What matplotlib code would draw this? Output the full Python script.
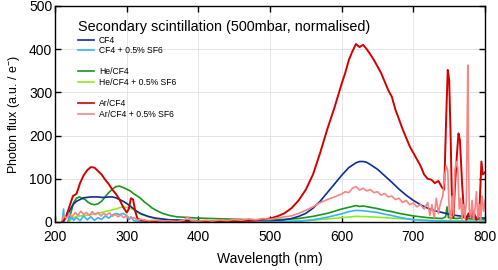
import numpy as np
import matplotlib
matplotlib.use("Agg")
import matplotlib.pyplot as plt
from matplotlib.lines import Line2D

plt.rcParams['font.family'] = ['Liberation Sans', 'DejaVu Sans']
plt.rcParams['mathtext.fontset'] = 'custom'
plt.rcParams['mathtext.rm'] = 'Liberation Sans'

# --- data ---
cf4_wl = [212, 215, 220, 225, 230, 235, 240, 245, 250, 255, 260, 265, 270, 275, 280, 285, 290, 295, 300, 305, 310, 315, 320, 330, 340, 350, 360, 380, 400, 420, 440, 460, 480, 500, 510, 520, 530, 540, 550, 560, 570, 580, 590, 600, 610, 620, 625, 630, 635, 640, 650, 660, 670, 680, 690, 700, 710, 720, 730, 740, 750, 760, 770, 780, 790, 800]
cf4 = [0, 10, 25, 40, 48, 52, 56, 57, 58, 58, 58, 57, 57, 58, 58, 56, 52, 48, 43, 37, 30, 24, 19, 13, 9, 7, 5, 4, 3, 2, 2, 1, 1, 2, 3, 5, 8, 13, 20, 32, 48, 68, 88, 108, 126, 137, 140, 140, 138, 133, 122, 107, 92, 76, 62, 50, 40, 32, 26, 22, 18, 15, 13, 12, 10, 9]

cf4_sf6_wl = [210, 212, 213, 216, 218, 220, 223, 226, 230, 235, 240, 245, 250, 255, 260, 265, 270, 275, 280, 285, 290, 295, 300, 303, 306, 310, 320, 340, 400, 500, 540, 560, 580, 590, 600, 610, 620, 630, 640, 650, 660, 670, 680, 690, 700, 720, 740, 760, 800]
cf4_sf6 = [0, 30, 5, 15, 25, 5, 12, 4, 10, 3, 14, 5, 12, 4, 10, 6, 14, 9, 16, 20, 17, 20, 15, 5, 12, 3, 1, 0, 0, 0, 2, 5, 11, 15, 19, 24, 27, 26, 24, 22, 18, 15, 11, 8, 5, 3, 2, 1, 1]

he_wl = [218, 222, 226, 230, 234, 238, 242, 246, 250, 255, 260, 265, 270, 275, 280, 285, 290, 295, 300, 305, 310, 315, 320, 325, 330, 335, 340, 345, 350, 360, 370, 380, 390, 400, 420, 440, 460, 480, 500, 520, 540, 560, 580, 590, 600, 610, 620, 625, 630, 640, 650, 660, 670, 680, 690, 700, 710, 720, 730, 740, 745, 747, 749, 755, 760, 770, 772, 774, 780, 790, 800]
he = [0, 20, 45, 55, 58, 55, 52, 46, 42, 40, 42, 48, 58, 68, 76, 82, 83, 80, 76, 72, 65, 60, 54, 46, 40, 33, 28, 24, 20, 15, 12, 11, 10, 9, 8, 7, 6, 5, 5, 6, 8, 13, 20, 25, 30, 34, 38, 36, 37, 34, 31, 27, 24, 20, 17, 14, 12, 10, 9, 8, 12, 35, 10, 9, 8, 10, 20, 8, 7, 6, 5]

he_sf6_wl = [218, 222, 226, 230, 240, 250, 260, 270, 280, 285, 290, 295, 300, 305, 310, 315, 320, 330, 340, 350, 360, 380, 400, 450, 500, 540, 560, 580, 600, 620, 640, 660, 680, 700, 720, 740, 760, 780, 800]
he_sf6 = [0, 5, 10, 13, 15, 17, 20, 24, 28, 30, 33, 35, 34, 32, 28, 23, 18, 12, 8, 6, 4, 3, 2, 1, 1, 2, 4, 7, 10, 13, 12, 10, 8, 6, 4, 3, 3, 2, 2]

ar_wl = [210, 215, 220, 225, 230, 235, 240, 245, 250, 255, 260, 265, 270, 275, 280, 285, 290, 295, 300, 303, 306, 309, 312, 315, 320, 330, 340, 360, 380, 400, 420, 440, 460, 480, 500, 510, 520, 530, 540, 550, 560, 570, 580, 590, 600, 605, 610, 615, 620, 625, 630, 635, 640, 645, 650, 655, 660, 665, 670, 675, 680, 685, 690, 695, 700, 705, 710, 715, 720, 725, 730, 735, 740, 743, 746, 748, 750, 752, 754, 756, 758, 761, 763, 765, 768, 771, 774, 777, 780, 784, 788, 792, 795, 797, 800]
ar = [0, 10, 35, 60, 65, 90, 108, 120, 127, 126, 118, 110, 98, 88, 75, 65, 52, 35, 22, 30, 55, 52, 25, 8, 4, 2, 1, 1, 0.5, 0.5, 0.5, 1, 2, 4, 8, 13, 20, 32, 50, 75, 110, 160, 215, 265, 320, 345, 375, 395, 412, 405, 410, 400, 388, 375, 360, 345, 325, 305, 290, 260, 238, 215, 195, 175, 160, 145, 130, 110, 100, 98, 90, 95, 80, 75, 250, 352, 330, 200, 40, 10, 80, 160, 205, 190, 90, 15, 5, 20, 10, 25, 5, 20, 140, 110, 115]

ar_sf6_wl = [210, 213, 216, 220, 224, 228, 232, 236, 240, 244, 248, 252, 256, 260, 264, 268, 272, 276, 280, 284, 288, 292, 296, 300, 305, 310, 315, 320, 330, 340, 350, 360, 370, 380, 385, 390, 400, 410, 420, 430, 440, 450, 460, 470, 480, 490, 500, 510, 520, 530, 540, 550, 560, 570, 580, 590, 600, 605, 610, 615, 620, 625, 630, 635, 640, 645, 650, 655, 660, 665, 670, 675, 680, 685, 690, 695, 700, 705, 710, 715, 720, 723, 726, 729, 732, 735, 738, 741, 744, 746, 748, 750, 752, 754, 756, 758, 760, 762, 764, 766, 768, 770, 772, 774, 775, 776, 777, 778, 780, 782, 784, 786, 788, 790, 792, 794, 796, 798, 800]
ar_sf6 = [5, 15, 8, 18, 12, 22, 15, 25, 18, 22, 15, 24, 17, 22, 14, 20, 16, 21, 13, 18, 12, 16, 10, 14, 8, 10, 5, 6, 3, 4, 2, 3, 1, 4, 12, 3, 2, 4, 2, 5, 3, 6, 4, 7, 5, 8, 6, 9, 12, 14, 20, 27, 35, 45, 52, 58, 65, 70, 68, 78, 82, 74, 78, 72, 75, 68, 70, 62, 66, 58, 60, 52, 55, 45, 50, 40, 44, 35, 40, 30, 45, 15, 40, 10, 55, 20, 45, 60, 110, 130, 120, 30, 5, 60, 15, 120, 140, 125, 30, 55, 5, 40, 8, 50, 200, 363, 150, 30, 10, 50, 5, 30, 70, 10, 40, 2, 60, 25, 50]

series = [
    ("CF4", cf4_wl, cf4, "#0b2d9b"),
    ("CF4 + 0.5% SF6", cf4_sf6_wl, cf4_sf6, "#33b5f5"),
    ("He/CF4", he_wl, he, "#1a961a"),
    ("He/CF4 + 0.5% SF6", he_sf6_wl, he_sf6, "#88ee22"),
    ("Ar/CF4", ar_wl, ar, "#d40000"),
    ("Ar/CF4 + 0.5% SF6", ar_sf6_wl, ar_sf6, "#f88484"),
]

fig = plt.figure(figsize=(4.98, 2.70), dpi=100)
ax = fig.add_axes([0.1104, 0.1778, 0.8635, 0.8])

draw_order = [2, 3, 0, 1, 4, 5]
for i in draw_order:
    name, x, y, c = series[i]
    ax.plot(x, y, color=c, lw=1.2 if i != 4 else 1.4)

ax.set_xlim(200, 800)
ax.set_ylim(0, 500)
ax.set_xticks(np.arange(200, 801, 100))
ax.set_yticks(np.arange(0, 501, 100))
ax.grid(True, color="#e4e4e4", lw=0.7)
ax.set_axisbelow(True)
ax.tick_params(direction="in", top=True, right=True, length=4, width=1, labelsize=10)
ax.tick_params(axis="x", pad=5.5)
ax.tick_params(axis="y", pad=2)
for s in ax.spines.values():
    s.set_linewidth(1.0)
ax.set_xlabel("Wavelength (nm)", fontsize=10, labelpad=6)
ax.set_ylabel("Photon flux (a.u. / e$^{-}$)", fontsize=9, labelpad=5)

# legend with blank rows between gas groups
blank = Line2D([], [], color="none")
handles, labels = [], []
for k, (name, x, y, c) in enumerate(series):
    handles.append(Line2D([], [], color=c, lw=1.2))
    labels.append(name)
    if k in (1, 3):
        handles.append(blank)
        labels.append(" ")
leg = ax.legend(handles, labels, title="Secondary scintillation (500mbar, normalised)",
                loc="upper left", bbox_to_anchor=(0.045, 0.95), frameon=False,
                fontsize=6.2, title_fontsize=10.4, alignment="left",
                handlelength=1.9, handletextpad=0.55, labelspacing=0.18, borderaxespad=0)

fig.savefig("out.png", dpi=100)
